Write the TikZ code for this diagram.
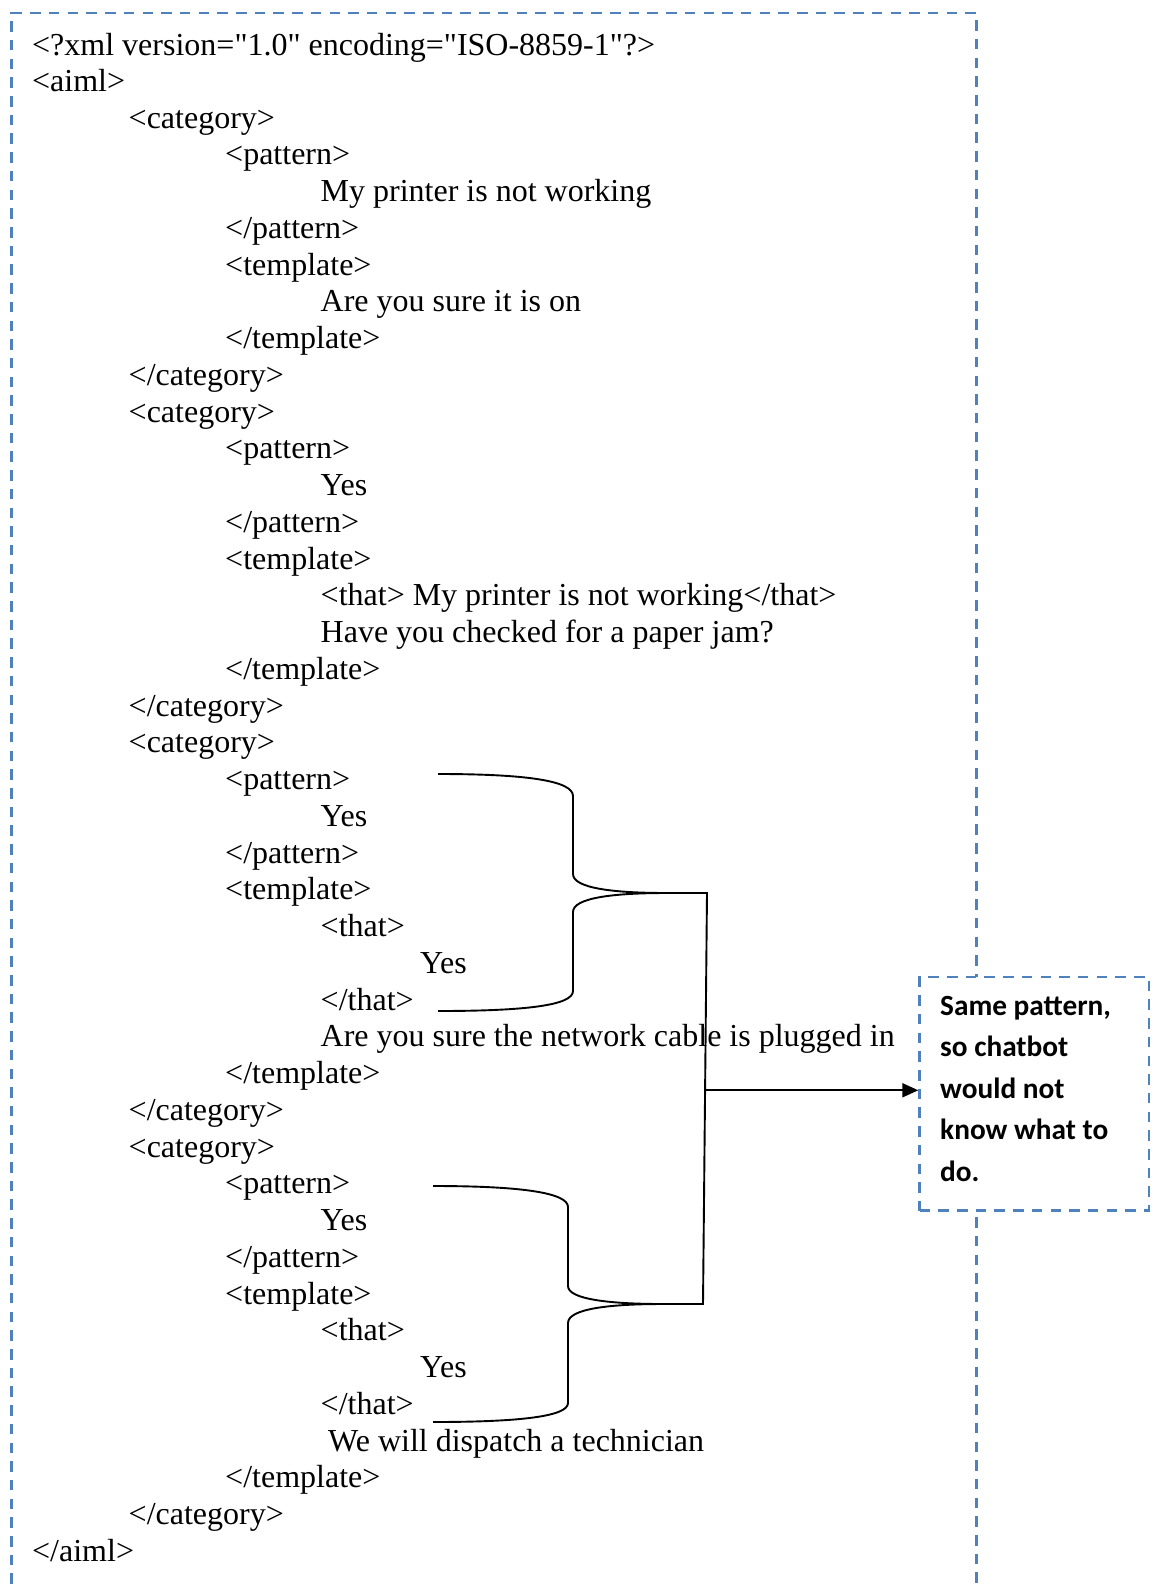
\documentclass[tikz,border=0pt]{standalone}
\usepackage{fontspec}
\setmainfont{Liberation Serif}[Ligatures=TeXOff]
\newfontfamily\notefont{Carlito}
\usetikzlibrary{arrows.meta,calc}
\definecolor{frameblue}{RGB}{79,129,189}
\begin{document}
\begin{tikzpicture}[x=1pt,y=-1pt,
  codeline/.style={anchor=base west,inner sep=0pt,font=\fontsize{32}{36}\selectfont},
  noteline/.style={anchor=base west,inner sep=0pt,font=\notefont\bfseries\fontsize{29.3}{35}\selectfont},
  frame/.style={draw=frameblue,line width=2.7pt,dash pattern=on 10.5pt off 8.2pt},
  link/.style={draw=black,line width=1.9pt},
]
\useasboundingbox (0,0) rectangle (1154,1589);
\clip (0,0) rectangle (1154,1589);

% outer dashed frame, open at the bottom of the page
\draw[frame] (11.7,1640) -- (11.7,13) -- (976.7,13) -- (976.7,1640);

% AIML listing, one node per line: number / indent / text
\foreach \n/\cx/\txt in {
  1/32/{<?xml version="1.0" encoding="ISO-8859-1"?>},
  2/32/{<aiml>},
  3/128.5/{<category>},
  4/225/{<pattern>},
  5/320.5/{My printer is not working},
  6/225/{</pattern>},
  7/225/{<template>},
  8/320.5/{Are you sure it is on},
  9/225/{</template>},
  10/128.5/{</category>},
  11/128.5/{<category>},
  12/225/{<pattern>},
  13/320.5/{Yes},
  14/225/{</pattern>},
  15/225/{<template>},
  16/320.5/{<that> My printer is not working</that>},
  17/320.5/{Have you checked for a paper jam?},
  18/225/{</template>},
  19/128.5/{</category>},
  20/128.5/{<category>},
  21/225/{<pattern>},
  22/320.5/{Yes},
  23/225/{</pattern>},
  24/225/{<template>},
  25/320.5/{<that>},
  26/420/{Yes},
  27/320.5/{</that>},
  28/320.5/{Are you sure the network cable is plugged in},
  29/225/{</template>},
  30/128.5/{</category>},
  31/128.5/{<category>},
  32/225/{<pattern>},
  33/320.5/{Yes},
  34/225/{</pattern>},
  35/225/{<template>},
  36/320.5/{<that>},
  37/420/{Yes},
  38/320.5/{</that>},
  39/328/{We will dispatch a technician},
  40/225/{</template>},
  41/128.5/{</category>},
  42/32/{</aiml>}}{
  \pgfmathsetmacro\yy{\n==1 ? 55.5 : 91.3+(\n-2)*36.75}
  \node[codeline] (line\n) at (\cx,\yy) {\txt};
}

% callout box
\node[frame,fill=white,inner sep=0pt,minimum width=229.4pt,minimum height=233.6pt,
      anchor=north west] (note) at (918.3,975.7) {};
\foreach \k/\txt in {0/{Same pattern,},1/{so chatbot},2/{would not},3/{know what to},4/{do.}}{
  \pgfmathsetmacro\yy{1015+41.5*\k}
  \node[noteline] (note\k) at (940,\yy) {\txt};
}

% first brace
\coordinate (b1top) at (438,774);
\coordinate (b1tip) at (667,893);
\coordinate (b1bot) at (438,1011);
\draw[link] (b1top) .. controls (528,774) and (573,781) .. (573,796) -- (573,874)
  .. controls (573,888) and (612,893) .. (b1tip)
  .. controls (612,893) and (573,898) .. (573,912) -- (573,991)
  .. controls (573,1005) and (528,1011) .. (b1bot);

% second brace
\coordinate (b2top) at (433,1186);
\coordinate (b2tip) at (663,1304);
\coordinate (b2bot) at (433,1422);
\draw[link] (b2top) .. controls (523,1186) and (568,1193) .. (568,1207) -- (568,1286)
  .. controls (568,1299) and (608,1304) .. (b2tip)
  .. controls (608,1304) and (568,1309) .. (568,1323) -- (568,1403)
  .. controls (568,1416) and (523,1422) .. (b2bot);

% spine joining both braces, and the arrow to the callout
\coordinate (spTop) at (707,893);
\coordinate (spBot) at (703,1304);
\draw[link] (b1tip) -- (spTop) -- (spBot) -- (b2tip);
\coordinate (fork) at ($(spTop)!0.48!(spBot)$);
\draw[link,-{Triangle[length=16pt,width=14pt]}] (fork) -- (fork -| note.west);
\end{tikzpicture}
\end{document}
